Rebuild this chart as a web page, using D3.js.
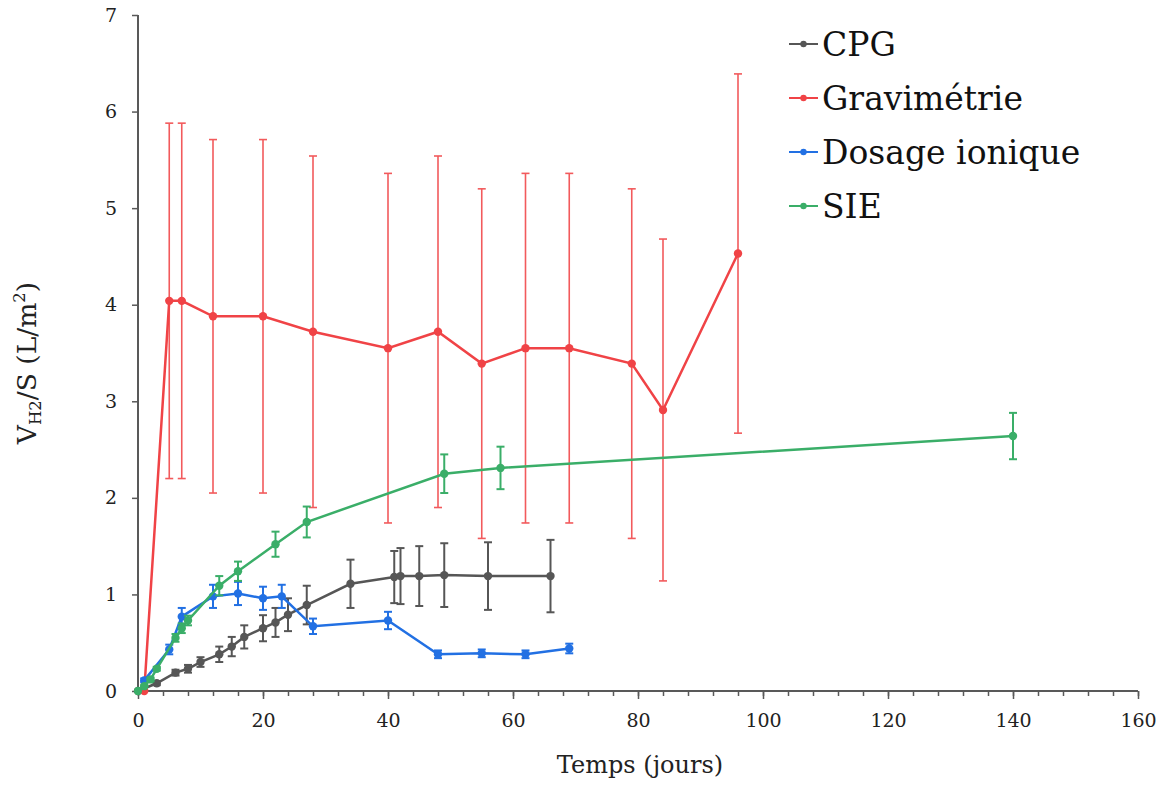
<!DOCTYPE html>
<html><head><meta charset="utf-8">
<script src="https://cdn.jsdelivr.net/npm/d3@7"></script>
<style>body{margin:0;background:#fff}svg{display:block}</style>
</head><body>
<svg id="c" width="1167" height="785"></svg>
<script>
// ---- data ----
const cpgX   = [0, 3, 6, 8, 10, 13, 15, 17, 20, 22, 24, 27, 34, 41, 42, 45, 49, 56, 66];
const cpgY   = [0, 0.08, 0.19, 0.23, 0.30, 0.38, 0.46, 0.56, 0.65, 0.71, 0.79, 0.89, 1.11, 1.18, 1.19, 1.19, 1.20, 1.19, 1.19];
const cpgErr = [0, 0.02, 0.03, 0.04, 0.05, 0.08, 0.10, 0.12, 0.135, 0.15, 0.17, 0.20, 0.25, 0.27, 0.29, 0.31, 0.33, 0.35, 0.375];

const gravX   = [1, 5, 7, 12, 20, 28, 40, 48, 55, 62, 69, 79, 84, 96];
const gravY   = [0, 4.04, 4.04, 3.88, 3.88, 3.72, 3.55, 3.72, 3.39, 3.55, 3.55, 3.39, 2.91, 4.53];
const gravErr = [0, 1.84, 1.84, 1.83, 1.83, 1.82, 1.81, 1.82, 1.81, 1.81, 1.81, 1.81, 1.77, 1.86];

const ionX   = [1, 5, 7, 12, 16, 20, 23, 28, 40, 48, 55, 62, 69];
const ionY   = [0.11, 0.43, 0.77, 0.98, 1.01, 0.96, 0.98, 0.67, 0.73, 0.38, 0.39, 0.38, 0.44];
const ionErr = [0.02, 0.05, 0.09, 0.12, 0.12, 0.12, 0.12, 0.08, 0.09, 0.04, 0.04, 0.04, 0.05];

const sieX   = [0, 1, 2, 3, 6, 7, 8, 13, 16, 22, 27, 49, 58, 140];
const sieY   = [0, 0.05, 0.12, 0.23, 0.55, 0.65, 0.73, 1.09, 1.24, 1.52, 1.75, 2.25, 2.31, 2.64];
const sieErr = [0, 0.01, 0.02, 0.02, 0.04, 0.05, 0.05, 0.10, 0.10, 0.13, 0.16, 0.20, 0.22, 0.24];

const seriesNames = ["CPG", "Gravimétrie", "Dosage ionique", "SIE"];
const xTicks = [0, 20, 40, 60, 80, 100, 120, 140, 160];
const yTicks = [0, 1, 2, 3, 4, 5, 6, 7];
const xTitle = "Temps (jours)";

// ---- layout ----
const svg = d3.select("#c");
const font = "'DejaVu Serif', 'Liberation Serif', serif";
const x = d3.scaleLinear().domain([0, 160]).range([138, 1138]);
const y = d3.scaleLinear().domain([0, 7]).range([691, 15]);
const axisColor = "#595959";

const series = [
  {name: seriesNames[0], xs: cpgX, ys: cpgY, es: cpgErr, color: "#565656", ecolor: "#565656", ew: 2},
  {name: seriesNames[1], xs: gravX, ys: gravY, es: gravErr, color: "#F04346", ecolor: "#F25A5C", ew: 1.6},
  {name: seriesNames[2], xs: ionX, ys: ionY, es: ionErr, color: "#2270E3", ecolor: "#2270E3", ew: 2},
  {name: seriesNames[3], xs: sieX, ys: sieY, es: sieErr, color: "#3AAE68", ecolor: "#3AAE68", ew: 2}
];

// axes
const xAxis = svg.append("g").attr("transform", "translate(0,691)");
xAxis.call(d3.axisBottom(x).tickValues(d3.range(0, 161, 4)).tickSize(5).tickFormat(""));
xAxis.call(g => g.selectAll(".tick line").attr("stroke", axisColor).attr("stroke-width", 1.5));
const xMaj = svg.append("g").attr("transform", "translate(0,691)")
  .call(d3.axisBottom(x).tickValues(xTicks).tickSize(8).tickPadding(15).tickFormat(d3.format("d")));
xMaj.selectAll(".tick line").attr("stroke", axisColor).attr("stroke-width", 1.5);
xMaj.selectAll(".tick text").attr("font-family", font).attr("font-size", 19).attr("fill", "#222");
svg.selectAll(".domain").remove();

const yAx = svg.append("g").attr("transform", "translate(138,0)")
  .call(d3.axisLeft(y).tickValues(yTicks).tickSize(6).tickPadding(15).tickFormat(d3.format("d")));
yAx.select(".domain").remove();
yAx.selectAll(".tick line").attr("stroke", axisColor).attr("stroke-width", 1.5);
yAx.selectAll(".tick text").attr("font-family", font).attr("font-size", 19).attr("fill", "#222");

svg.append("line").attr("x1", x(0)).attr("x2", x(0)).attr("y1", y(7)).attr("y2", y(0))
  .attr("stroke", axisColor).attr("stroke-width", 2);
svg.append("line").attr("x1", x(0)).attr("x2", x(160)).attr("y1", y(0)).attr("y2", y(0))
  .attr("stroke", axisColor).attr("stroke-width", 2);

// series
const line = d3.line().x(d => x(d[0])).y(d => y(d[1]));
series.forEach(s => {
  const pts = s.xs.map((v, i) => [v, s.ys[i], s.es[i]]);
  const g = svg.append("g");
  const eb = g.append("g").attr("stroke", s.ecolor).attr("stroke-width", s.ew).attr("fill", "none");
  pts.filter(p => p[2] > 0).forEach(p => {
    eb.append("line").attr("x1", x(p[0])).attr("x2", x(p[0])).attr("y1", y(p[1] - p[2])).attr("y2", y(p[1] + p[2]));
    [p[1] - p[2], p[1] + p[2]].forEach(v => {
      eb.append("line").attr("x1", x(p[0]) - 4).attr("x2", x(p[0]) + 4).attr("y1", y(v)).attr("y2", y(v));
    });
  });
  g.append("path").datum(pts).attr("d", line).attr("fill", "none")
    .attr("stroke", s.color).attr("stroke-width", 2.5);
  g.selectAll("circle").data(pts).join("circle")
    .attr("cx", d => x(d[0])).attr("cy", d => y(d[1])).attr("r", 4.2).attr("fill", s.color);
});

// legend
const leg = svg.append("g");
series.forEach((s, i) => {
  const ly = 44 + i * 54;
  leg.append("line").attr("x1", 789).attr("x2", 818).attr("y1", ly).attr("y2", ly)
    .attr("stroke", s.color).attr("stroke-width", 2);
  leg.append("circle").attr("cx", 803.5).attr("cy", ly).attr("r", 3.2).attr("fill", s.color);
  leg.append("text").attr("x", 822).attr("y", ly + 12).text(s.name)
    .attr("font-family", font).attr("font-size", 33).attr("fill", "#111");
});

// axis titles
svg.append("text").attr("x", 640).attr("y", 773).attr("text-anchor", "middle")
  .attr("font-family", font).attr("font-size", 24).attr("fill", "#222").text(xTitle);

const yt = svg.append("text").attr("transform", "translate(36,363) rotate(-90)")
  .attr("text-anchor", "middle").attr("font-family", font).attr("font-size", 26.5).attr("fill", "#222");
yt.append("tspan").text("V");
yt.append("tspan").attr("font-size", 16.5).attr("dy", 5).text("H2");
yt.append("tspan").attr("dy", -5).text("/S (L/m");
yt.append("tspan").attr("font-size", 16.5).attr("dy", -11).text("2");
yt.append("tspan").attr("dy", 11).text(")");
</script>
</body></html>
